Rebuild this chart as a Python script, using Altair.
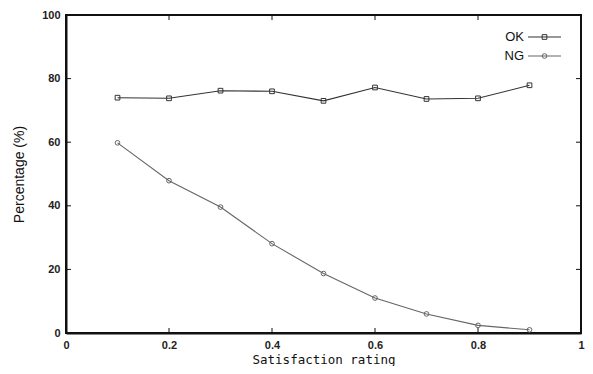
import altair as alt
import pandas as pd

rating = [0.1, 0.2, 0.3, 0.4, 0.5, 0.6, 0.7, 0.8, 0.9]
ok_vals = [74.0, 73.8, 76.2, 76.0, 73.0, 77.2, 73.6, 73.8, 77.9]
ng_vals = [59.8, 47.9, 39.6, 28.1, 18.7, 11.0, 6.0, 2.4, 1.0]
x_ticks = [0, 0.2, 0.4, 0.6, 0.8, 1]
y_ticks = [0, 20, 40, 60, 80, 100]
series = ["OK", "NG"]
line_colors = ["#333333", "#666666"]

df = pd.DataFrame(
    {"rating": rating * 2,
     "value": ok_vals + ng_vals,
     "series": ["OK"] * len(rating) + ["NG"] * len(rating)}
)

W, H = 515, 318
xs = alt.Scale(domain=[0, 1], nice=False)
ys = alt.Scale(domain=[0, 100], nice=False)
shape_scale = alt.Scale(domain=series, range=["square", "circle"])
color_scale = alt.Scale(domain=series, range=line_colors)

x_enc = alt.X("rating:Q", scale=xs, title="Satisfaction rating",
              axis=alt.Axis(values=x_ticks, tickSize=0, grid=False, labelPadding=6,
                            labelFont="Liberation Sans", labelFontSize=11, labelColor="#222",
                            labelFontWeight="bold",
                            titleFont="DejaVu Sans Mono", titleFontSize=12.5,
                            titleFontWeight="normal", titleColor="#111", titlePadding=3,
                            domainColor="#111", domainWidth=2,
                            labelFlush=False, format="~g"))
y_enc = alt.Y("value:Q", scale=ys, title="Percentage (%)",
              axis=alt.Axis(values=y_ticks, tickSize=0, grid=False, labelPadding=6,
                            labelFont="Liberation Sans", labelFontSize=11, labelColor="#222",
                            labelFontWeight="bold",
                            titleFont="Liberation Sans", titleFontSize=14,
                            titleFontWeight="normal", titleColor="#111", titlePadding=15,
                            domainColor="#111", domainWidth=2, labelFlush=False))

base = alt.Chart(df)

lines = base.mark_line(strokeWidth=1.1).encode(
    x=x_enc, y=y_enc, detail="series:N",
    color=alt.Color("series:N", scale=color_scale, legend=None))

pts = base.mark_point(filled=False, strokeWidth=1, opacity=1, size=22).encode(
    x=alt.X("rating:Q", scale=xs),
    y=alt.Y("value:Q", scale=ys),
    color=alt.Color("series:N", scale=color_scale, legend=None),
    shape=alt.Shape("series:N", scale=shape_scale, legend=None))

# inward ticks on all four sides (gnuplot style)
xt = pd.DataFrame({"t": x_ticks})
yt = pd.DataFrame({"t": y_ticks})
tk = dict(color="#111", strokeWidth=1)
xb = alt.Chart(xt).mark_rule(**tk).encode(
    x=alt.X("t:Q", scale=xs), y=alt.value(H), y2=alt.value(H - 5))
xtop = alt.Chart(xt).mark_rule(**tk).encode(
    x=alt.X("t:Q", scale=xs), y=alt.value(0), y2=alt.value(5))
yl = alt.Chart(yt).mark_rule(**tk).encode(
    y=alt.Y("t:Q", scale=ys), x=alt.value(0), x2=alt.value(5))
yr = alt.Chart(yt).mark_rule(**tk).encode(
    y=alt.Y("t:Q", scale=ys), x=alt.value(W), x2=alt.value(W - 5))

# legend: label then sample, top right
leg = pd.DataFrame({"series": series})
leg_y = [22, 41]
leg_layers = []
for name, ly in zip(series, leg_y):
    c = alt.Chart(leg).transform_filter(alt.datum.series == name)
    leg_layers.append(c.mark_text(align="right", baseline="middle", font="Liberation Sans",
                                  fontSize=13, color="#111").encode(
        text="series:N", x=alt.value(458), y=alt.value(ly)))
    leg_layers.append(c.mark_rule(strokeWidth=1.1).encode(
        x=alt.value(462), x2=alt.value(495), y=alt.value(ly),
        color=alt.Color("series:N", scale=color_scale, legend=None)))
    leg_layers.append(c.mark_point(filled=False, strokeWidth=1, opacity=1, size=22).encode(
        x=alt.value(478.5), y=alt.value(ly),
        color=alt.Color("series:N", scale=color_scale, legend=None),
        shape=alt.Shape("series:N", scale=shape_scale, legend=None)))

chart = alt.layer(lines, pts, xb, xtop, yl, yr, *leg_layers).properties(
    width=W, height=H,
    autosize=alt.AutoSizeParams(type="none"),
    padding={"left": 58, "top": 7, "right": 4, "bottom": 33},
    background="white",
).configure_view(stroke="#111", strokeWidth=2)

chart.save("out.html", embed_options={"renderer": "svg", "actions": False})
